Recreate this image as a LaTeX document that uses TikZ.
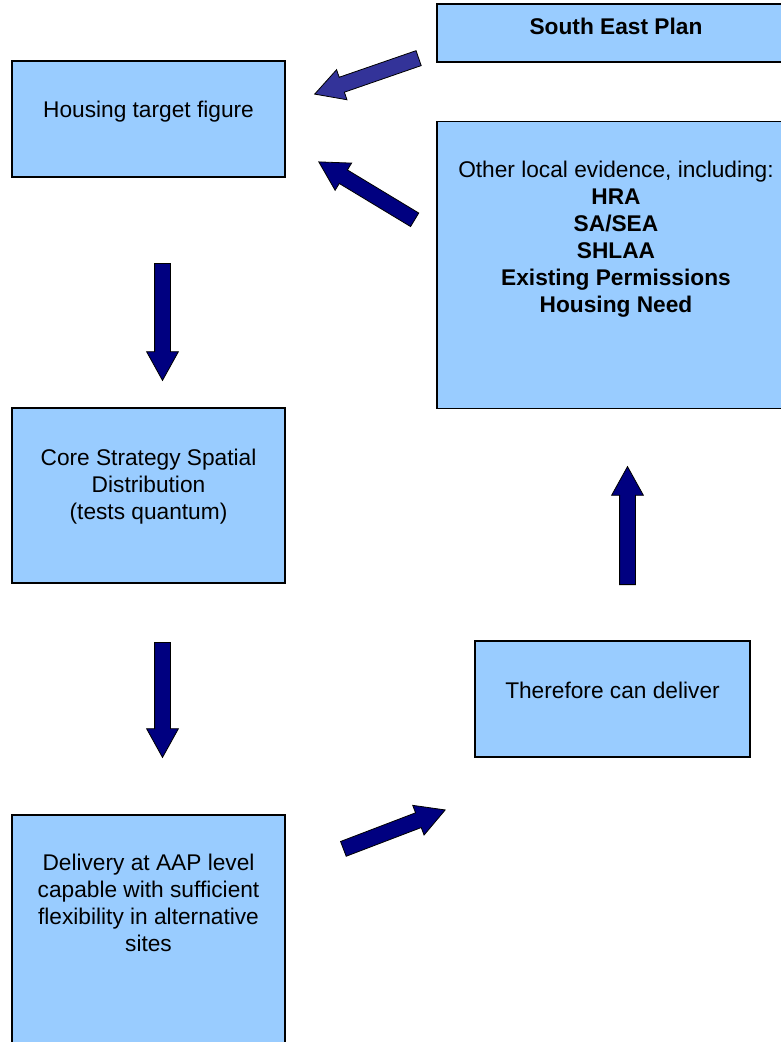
\documentclass[tikz,border=0pt]{standalone}
\usepackage{fontspec}
\setmainfont{Liberation Sans}
\usetikzlibrary{positioning,shapes.arrows}

\definecolor{boxblue}{HTML}{99CCFF}
\definecolor{navyarrow}{HTML}{000080}
\definecolor{slatearrow}{HTML}{333399}

\tikzset{
  box/.style={draw=black, fill=boxblue, line width=1.2pt, inner sep=0pt},
  txt/.style={align=center, inner sep=0pt, font=\fontsize{22.7}{27}\selectfont},
  blockarrow/.style={single arrow, draw=black, line width=0.8pt, fill=navyarrow,
    inner xsep=0pt, inner ysep=7.5pt, minimum width=31pt, single arrow head extend=8pt,
    single arrow tip angle=58, single arrow head indent=0pt,
    sloped, allow upside down, at start, anchor=tail}
}

\begin{document}
\begin{tikzpicture}[x=1pt,y=-1pt]
  \useasboundingbox (0,0) rectangle (781,1042);

  % boxes
  \node[box, minimum width=358pt, minimum height=58pt]  (sep)     at (616,33)    {};
  \node[box, minimum width=273pt, minimum height=116pt] (target)  at (148.5,119) {};
  \node[box, minimum width=358pt, minimum height=287pt] (other)   at (616,265)   {};
  \node[box, minimum width=273pt, minimum height=175pt] (core)    at (148.5,495.5) {};
  \node[box, minimum width=275pt, minimum height=116pt] (deliver) at (612.5,699) {};
  \node[box, minimum width=273pt, minimum height=240pt] (aap)     at (148.5,935) {};

  % texts
  \node[txt, below=14pt of sep.north]     (septxt)     {\bfseries South East Plan};
  \node[txt, below=40pt of target.north]  (targettxt)  {Housing target figure};
  \node[txt, below=40pt of other.north]   (othertxt)   {Other local evidence, including:\\
    \bfseries HRA\\ \bfseries SA/SEA\\ \bfseries SHLAA\\
    \bfseries Existing Permissions\\ \bfseries Housing Need};
  \node[txt, below=41pt of core.north]    (coretxt)    {Core Strategy Spatial\\Distribution\\(tests quantum)};
  \node[txt, below=41pt of deliver.north] (delivertxt) {Therefore can deliver};
  \node[txt, below=39pt of aap.north]     (aaptxt)     {Delivery at AAP level\\capable with sufficient\\flexibility in alternative\\sites};

  % arrow ends
  \coordinate (a1s) at (419,58);   \coordinate (a1e) at (315,94);
  \coordinate (a2s) at (415,220);  \coordinate (a2e) at (319,162);
  \coordinate (a3s) at (162.5,263); \coordinate (a3e) at (162.5,380);
  \coordinate (a4s) at (162.5,642); \coordinate (a4e) at (162.5,757);
  \coordinate (a5s) at (627.5,585); \coordinate (a5e) at (627.5,467);
  \coordinate (a6s) at (343,849);  \coordinate (a6e) at (445,810);

  % block arrows
  \path (a1s) -- node[blockarrow, fill=slatearrow, minimum height=110pt] (arr1) {} (a1e);
  \path (a2s) -- node[blockarrow, minimum height=112pt] (arr2) {} (a2e);
  \path (a3s) -- node[blockarrow, minimum height=117pt] (arr3) {} (a3e);
  \path (a4s) -- node[blockarrow, minimum height=115pt] (arr4) {} (a4e);
  \path (a5s) -- node[blockarrow, minimum height=118pt] (arr5) {} (a5e);
  \path (a6s) -- node[blockarrow, minimum height=109pt] (arr6) {} (a6e);
\end{tikzpicture}
\end{document}
